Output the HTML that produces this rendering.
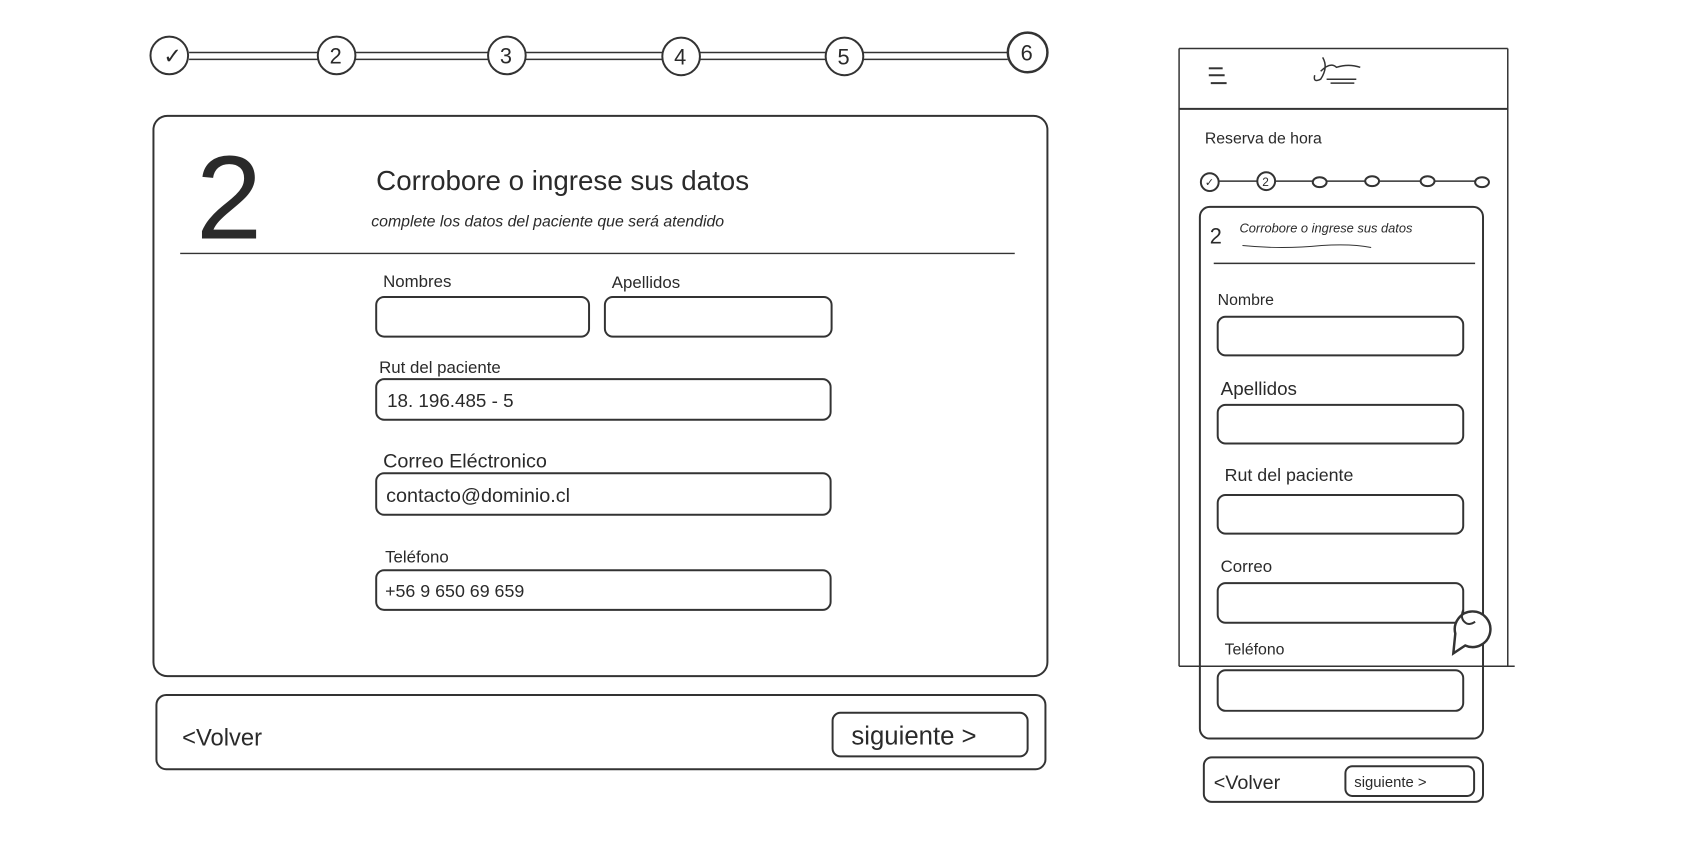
<!DOCTYPE html>
<html><head><meta charset="utf-8"><style>
html,body{margin:0;padding:0;background:#fff;}
svg{display:block}
text{font-family:"Liberation Sans",sans-serif;fill:#2a2a2a}
</style></head><body>
<svg width="1684" height="853" viewBox="0 0 1684 853" xmlns="http://www.w3.org/2000/svg">
<g transform="scale(0.99)">
<g stroke="#333" fill="none" stroke-width="2">
<line x1="191" y1="53" x2="1018" y2="53" stroke-width="1.5"/>
<line x1="191" y1="60" x2="1018" y2="60" stroke-width="1.5"/>
<g fill="#fff">
<circle cx="171" cy="56" r="19"/><circle cx="340" cy="56" r="19"/><circle cx="512" cy="56" r="19"/>
<circle cx="688" cy="57" r="19"/><circle cx="853" cy="57" r="19"/><circle cx="1038" cy="53" r="20" stroke-width="2.5"/>
</g>
<rect x="155" y="117" width="903" height="566" rx="14"/>
<line x1="182" y1="256" x2="1025" y2="256" stroke-width="1.5"/>
<rect x="380" y="300" width="215" height="40" rx="8"/>
<rect x="611" y="300" width="229" height="40" rx="8"/>
<rect x="380" y="383" width="459" height="41" rx="8"/>
<rect x="380" y="478" width="459" height="42" rx="8"/>
<rect x="380" y="576" width="459" height="40" rx="8"/>
<rect x="158" y="702" width="898" height="75" rx="10"/>
<rect x="841" y="720" width="197" height="44" rx="8"/>
<line x1="1191" y1="49" x2="1523" y2="49" stroke-width="1.5"/>
<line x1="1191" y1="49" x2="1191" y2="673" stroke-width="1.5"/>
<line x1="1523" y1="49" x2="1523" y2="673" stroke-width="1.5"/>
<line x1="1191" y1="110" x2="1523" y2="110" stroke-width="2"/>
<line x1="1191" y1="673" x2="1530" y2="673" stroke-width="1.5"/>
<line x1="1221" y1="69" x2="1235" y2="69"/><line x1="1221" y1="76" x2="1237" y2="76"/><line x1="1223" y1="84" x2="1239" y2="84"/>
<path d="M1336 58 q6 10 -2 22 q-8 4 -6 -4 M1334 72 q10 -10 16 -4 q6 -2 12 -2 q6 0 12 2 M1340 80 h30 M1344 84 h24" stroke-width="1.5"/>
<line x1="1230" y1="183" x2="1497" y2="183" stroke-width="1.5"/>
<g fill="#fff">
<circle cx="1222" cy="184" r="9"/><circle cx="1279" cy="183" r="9"/><ellipse cx="1333" cy="184" rx="7" ry="5"/>
<ellipse cx="1386" cy="183" rx="7" ry="5"/><ellipse cx="1442" cy="183" rx="7" ry="5"/><ellipse cx="1497" cy="184" rx="7" ry="5"/>
</g>
<rect x="1212" y="209" width="286" height="537" rx="10"/>
<path d="M1255 248 q40 4 80 0 q30 -2 50 2" stroke-width="1"/>
<line x1="1226" y1="266" x2="1490" y2="266" stroke-width="1.5"/>
<rect x="1230" y="320" width="248" height="39" rx="8"/>
<rect x="1230" y="409" width="248" height="39" rx="8"/>
<rect x="1230" y="500" width="248" height="39" rx="8"/>
<rect x="1230" y="589" width="248" height="40" rx="8"/>
<rect x="1230" y="677" width="248" height="41" rx="8"/>
<path d="M1470 640 a18 18 0 1 1 10 12 l-12 8 z" fill="#fff" stroke-width="2.5"/>
<path d="M1478 616 q-4 10 4 14 q4 1 8 -2" stroke-width="2"/>
<rect x="1216" y="765" width="282" height="45" rx="8"/>
<rect x="1359" y="774" width="130" height="30" rx="7"/>
</g>
<text x="165" y="64" font-size="22">✓</text>
<text x="333" y="64" font-size="22">2</text>
<text x="505" y="64" font-size="22">3</text>
<text x="681" y="65" font-size="22">4</text>
<text x="846" y="65" font-size="22">5</text>
<text x="1031" y="61" font-size="22">6</text>
<text x="198" y="241" font-size="120" font-weight="300">2</text>
<text x="380" y="192" font-size="28">Corrobore  o  ingrese  sus datos</text>
<text x="375" y="229" font-size="16" font-style="italic">complete los datos del paciente que será atendido</text>
<text x="387" y="290" font-size="17">Nombres</text>
<text x="618" y="291" font-size="17">Apellidos</text>
<text x="383" y="377" font-size="17">Rut del paciente</text>
<text x="391" y="411" font-size="19">18. 196.485 - 5</text>
<text x="387" y="472" font-size="20">Correo Eléctronico</text>
<text x="390" y="507" font-size="20">contacto@dominio.cl</text>
<text x="389" y="568" font-size="17">Teléfono</text>
<text x="389" y="603" font-size="18">+56 9 650 69 659</text>
<text x="184" y="753" font-size="24">&lt;Volver</text>
<text x="860" y="752" font-size="26">siguiente &gt;</text>
<text x="1217" y="145" font-size="16">Reserva de hora</text>
<text x="1217" y="188" font-size="11">✓</text>
<text x="1275" y="188" font-size="12">2</text>
<text x="1222" y="246" font-size="22">2</text>
<text x="1252" y="235" font-size="13" font-style="italic">Corrobore o ingrese sus datos</text>
<text x="1230" y="308" font-size="16">Nombre</text>
<text x="1233" y="399" font-size="19">Apellidos</text>
<text x="1237" y="486" font-size="18">Rut del paciente</text>
<text x="1233" y="578" font-size="17">Correo</text>
<text x="1237" y="661" font-size="16">Teléfono</text>
<text x="1226" y="797" font-size="20">&lt;Volver</text>
<text x="1368" y="795" font-size="15">siguiente &gt;</text>
</g>
</svg>
</body></html>
